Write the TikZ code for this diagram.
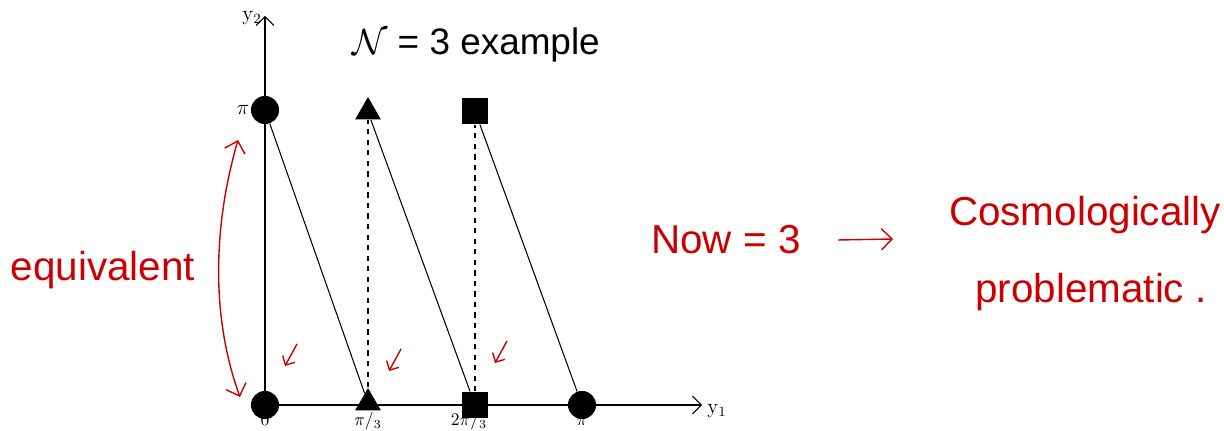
\documentclass[tikz,border=0pt]{standalone}
\usepackage{fontspec}
\setsansfont{Liberation Sans}
\usetikzlibrary{arrows.meta,shapes.geometric}

\tikzset{
  dotpt/.style={circle, fill=black, inner sep=0pt, minimum size=16},
  tript/.style={regular polygon, regular polygon sides=3, fill=black, inner sep=0pt, minimum size=17},
  sqpt/.style={rectangle, fill=black, inner sep=0pt, minimum size=15},
  hand/.style={font=\sffamily\fontsize{21}{24}\selectfont},
  note/.style={hand, text=red!80!black, font=\sffamily\fontsize{23}{26}\selectfont},
  ticklab/.style={font=\large, inner sep=1pt},
  xtick/.style={font=\normalsize, inner sep=0pt, anchor=base},
}

\begin{document}
\begin{tikzpicture}[x=0.02cm, y=-0.02cm]
    \useasboundingbox (0,0) rectangle (1224,431);

    % Achsen
    \coordinate (orig) at (265,405);
    \coordinate (ytop) at (265,16);
    \coordinate (xend) at (702,405);
    \draw[semithick, -{Straight Barb[length=5pt]}] (orig) -- (ytop);
    \draw[semithick, -{Straight Barb[length=5pt]}] (orig) -- (xend);
    \node[ticklab] (ylab) at (252,18) {y$_2$};
    \node[ticklab] (xlab) at (717,411) {y$_1$};

    % Punkte
    \node[dotpt] (p0) at (265,405) {};
    \node[dotpt] (ppi) at (265,110) {};
    \node[tript] (t1) at (368,403) {};
    \node[tript] (t2) at (368,112) {};
    \node[sqpt] (s1) at (475,405) {};
    \node[sqpt] (s2) at (475,111) {};
    \node[dotpt] (q1) at (582,405) {};

    % Beschriftung der Achsen
    \node[xtick] (l0) at (265,426) {0};
    \node[ticklab] (lpi) at (243,110) {$\pi$};
    \node[xtick] (l1) at (368,426) {$\pi/_3$};
    \node[xtick] (l2) at (469,426) {$2\pi/_3$};
    \node[xtick] (l3) at (582,426) {$\pi$};

    % Linien
    \draw[semithick] (ppi) -- (t1);
    \draw[semithick] (t2) -- (s1);
    \draw[semithick] (s2) -- (q1);
    \draw[semithick, dashed] (t1) -- (t2);
    \draw[semithick, dashed] (s1) -- (s2);

    % Titel
    \node[hand] (title) at (476,45) {$\mathcal{N}$ = 3 example};

    % rote Notizen
    \coordinate (eqA) at (238,140);
    \coordinate (eqB) at (240,397);
    \draw[red!80!black, thick, {Straight Barb[length=6pt]}-{Straight Barb[length=6pt]}]
        (eqA) .. controls (212,230) and (212,320) .. (eqB);
    \node[note] (equiv) at (103,270) {equivalent};

    \foreach \i/\x/\y in {1/297/344, 2/401/349, 3/507/341} {
        \coordinate (a\i) at (\x,\y);
        \coordinate (b\i) at (\x-12,\y+22);
        \draw[red!80!black, thick, -{Straight Barb[length=4pt]}] (a\i) -- (b\i);
    }

    \node[note] (now) at (726,240) {Now = 3};
    \coordinate (arA) at (838,240);
    \coordinate (arB) at (893,239);
    \draw[red!80!black, thick, -{Straight Barb[length=6pt]}] (arA) -- (arB);
    \node[note] (cosmo) at (1085,215) {Cosmologically};
    \node[note] (probl) at (1091,292) {problematic .};
\end{tikzpicture}
\end{document}
